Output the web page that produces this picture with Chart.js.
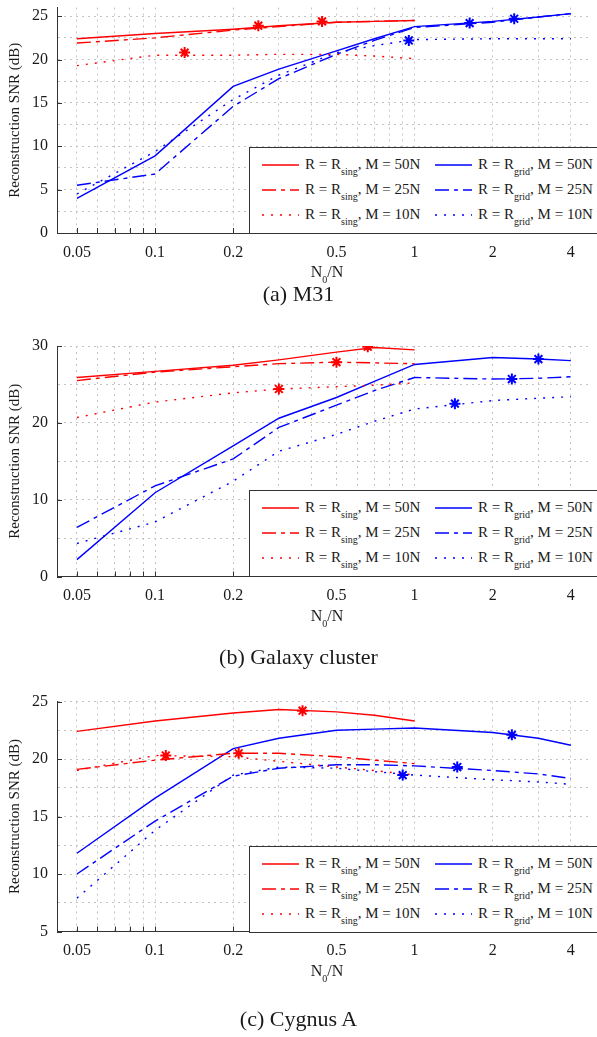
<!DOCTYPE html>
<html><head><meta charset="utf-8">
<script src="https://cdn.jsdelivr.net/npm/chart.js@4.4.0/dist/chart.umd.min.js"></script>
<style>
html,body{margin:0;padding:0;background:#fff;width:597px;height:1037px;overflow:hidden;font-family:"Liberation Serif","Times New Roman","DejaVu Serif",serif;color:#1a1a1a;}
.panel{position:absolute;left:0;width:597px;}
.panel canvas{position:absolute;left:0;top:0;}
.legend{position:absolute;left:249px;width:360px;height:87px;box-sizing:border-box;border:1px solid #333;background:#fff;}
.item{position:absolute;height:20px;}
.item svg{position:absolute;left:0;top:7px;}
.item span.t{position:absolute;top:0;white-space:nowrap;font-size:15px;line-height:16px;}
.item sub{font-size:10px;vertical-align:baseline;position:relative;top:6px;}
.xt{position:absolute;width:100%;text-align:center;font-size:16px;}
.xt sub{font-size:10px;vertical-align:baseline;position:relative;top:6px;}
.cap{position:absolute;left:0;width:597px;text-align:center;font-size:22px;}
</style>
</head><body>
<script>
// ---------- data ----------
const N0N = [0.05, 0.1, 0.2, 0.3, 0.5, 0.7, 1, 2, 3, 4];
const xTickLabels = [0.05, 0.1, 0.2, 0.5, 1, 2, 4];
const xGridValues = [0.05,0.06,0.07,0.08,0.09,0.1,0.2,0.3,0.4,0.5,0.6,0.7,0.8,0.9,1,2,3,4];

// (a) M31
const m31Sing50 = [22.4, 23.0, 23.5, 23.9, 24.3, 24.4, 24.5, null, null, null];
const m31Sing25 = [21.9, 22.5, 23.4, 23.8, 24.3, 24.4, 24.5, null, null, null];
const m31Sing10 = [19.3, 20.5, 20.5, 20.6, 20.6, 20.4, 20.1, null, null, null];
const m31Grid50 = [4.0, 8.9, 16.9, 18.9, 21.0, 22.4, 23.8, 24.4, 24.9, 25.3];
const m31Grid25 = [5.5, 6.8, 14.6, 17.8, 20.6, 22.2, 23.7, 24.3, 24.9, 25.3];
const m31Grid10 = [4.5, 9.4, 15.4, 18.2, 20.8, 21.6, 22.3, 22.4, 22.4, 22.4];
const m31StarX = [0.25, 0.44, 0.13, 2.42, 1.63, 0.95];
const m31StarY = [23.9, 24.4, 20.8, 24.7, 24.2, 22.2];
const m31YTicks = [0, 2.5, 5, 7.5, 10, 12.5, 15, 17.5, 20, 22.5, 25];
const m31YLabels = [0, 5, 10, 15, 20, 25];

// (b) Galaxy cluster
const galSing50 = [25.9, 26.7, 27.5, 28.2, 29.2, 29.8, 29.5, null, null, null];
const galSing25 = [25.5, 26.6, 27.3, 27.7, 27.9, 27.8, 27.7, null, null, null];
const galSing10 = [20.7, 22.7, 23.9, 24.4, 24.7, 24.9, 25.2, null, null, null];
const galGrid50 = [2.2, 10.9, 17.0, 20.6, 23.3, 25.4, 27.6, 28.5, 28.3, 28.1];
const galGrid25 = [6.4, 11.8, 15.3, 19.4, 22.3, 24.2, 25.9, 25.7, 25.8, 26.0];
const galGrid10 = [4.3, 7.1, 12.4, 16.3, 18.5, 20.2, 21.8, 22.9, 23.2, 23.4];
const galStarX = [0.66, 0.5, 0.30, 3.0, 2.37, 1.43];
const galStarY = [29.9, 27.9, 24.4, 28.3, 25.7, 22.5];
const galYTicks = [0, 5, 10, 15, 20, 25, 30];
const galYLabels = [0, 10, 20, 30];

// (c) Cygnus A
const cygSing50 = [22.4, 23.3, 24.0, 24.3, 24.1, 23.8, 23.3, null, null, null];
const cygSing25 = [19.1, 19.9, 20.5, 20.5, 20.2, 19.9, 19.6, null, null, null];
const cygSing10 = [19.0, 20.3, 20.2, 19.8, 19.3, 19.0, 18.6, null, null, null];
const cygGrid50 = [11.8, 16.6, 20.9, 21.8, 22.5, 22.6, 22.7, 22.3, 21.8, 21.2];
const cygGrid25 = [10.0, 14.6, 18.5, 19.2, 19.5, 19.5, 19.4, 19.0, 18.7, 18.3];
const cygGrid10 = [7.9, 13.8, 18.6, 19.3, 19.2, 18.9, 18.6, 18.2, 18.0, 17.8];
const cygStarX = [0.37, 0.21, 0.11, 2.37, 1.46, 0.9];
const cygStarY = [24.2, 20.5, 20.3, 22.1, 19.3, 18.6];
const cygYTicks = [5, 7.5, 10, 12.5, 15, 17.5, 20, 22.5, 25];
const cygYLabels = [5, 10, 15, 20, 25];

const seriesR = ['sing', 'sing', 'sing', 'grid', 'grid', 'grid'];
const seriesM = ['50N', '25N', '10N', '50N', '25N', '10N'];

// ---------- styles ----------
const COL = {sing: '#ff0000', grid: '#0000ff'};
const DASH = {'50N': [], '25N': [14, 5, 4, 5], '10N': [2, 7]};

const panels = [
  {top: 0, height: 330, plotTop: 3, plotBottom: 233, yMin: 0, yMax: 26,
   series: [m31Sing50, m31Sing25, m31Sing10, m31Grid50, m31Grid25, m31Grid10],
   starX: m31StarX, starY: m31StarY, yTicks: m31YTicks, yLabels: m31YLabels,
   caption: '(a) M31', capY: 281, legTop: 147},
  {top: 330, height: 343, plotTop: 16, plotBottom: 246.5, yMin: 0, yMax: 30,
   series: [galSing50, galSing25, galSing10, galGrid50, galGrid25, galGrid10],
   starX: galStarX, starY: galStarY, yTicks: galYTicks, yLabels: galYLabels,
   caption: '(b) Galaxy cluster', capY: 314, legTop: 160},
  {top: 673, height: 364, plotTop: 28.5, plotBottom: 258.5, yMin: 5, yMax: 25,
   series: [cygSing50, cygSing25, cygSing10, cygGrid50, cygGrid25, cygGrid10],
   starX: cygStarX, starY: cygStarY, yTicks: cygYTicks, yLabels: cygYLabels,
   caption: '(c) Cygnus A', capY: 333, legTop: 172.5}
];

const innerTicks = {
  id: 'innerTicks',
  afterDraw(chart, args, opts) {
    const {ctx, chartArea: a, scales: {x, y}} = chart;
    ctx.save();
    ctx.strokeStyle = '#333';
    ctx.lineWidth = 1;
    ctx.beginPath();
    for (const t of y.ticks) {
      if (!opts.yLabels.includes(t.value)) continue;
      const py = Math.round(y.getPixelForValue(t.value)) + 0.5;
      ctx.moveTo(a.left, py); ctx.lineTo(a.left + 5, py);
    }
    for (const t of x.ticks) {
      const px = Math.round(x.getPixelForValue(t.value)) + 0.5;
      ctx.moveTo(px, a.bottom); ctx.lineTo(px, a.bottom - 5);
    }
    ctx.stroke();
    ctx.restore();
  }
};

const FONT = "'Liberation Serif', 'Times New Roman', 'DejaVu Serif', serif";

panels.forEach((p, pi) => {
  const div = document.createElement('div');
  div.className = 'panel';
  div.style.top = p.top + 'px';
  div.style.height = p.height + 'px';
  document.body.appendChild(div);
  const cv = document.createElement('canvas');
  cv.width = 597; cv.height = p.height;
  cv.style.width = '597px'; cv.style.height = p.height + 'px';
  div.appendChild(cv);

  const datasets = [];
  p.starX.forEach((sx, i) => {
    const c = COL[seriesR[i]];
    datasets.push({
      label: 'star', data: [{x: sx, y: p.starY[i]}], showLine: false,
      pointStyle: 'star', pointRadius: 5.5, pointBorderWidth: 2,
      borderColor: c, backgroundColor: c, pointBorderColor: c
    });
  });
  p.series.forEach((vals, i) => {
    const c = COL[seriesR[i]];
    const pts = [];
    vals.forEach((v, k) => { if (v !== null) pts.push({x: N0N[k], y: v}); });
    datasets.push({
      label: 'R = R' + seriesR[i] + ', M = ' + seriesM[i],
      data: pts, borderColor: c, backgroundColor: c, borderWidth: 1.4,
      borderDash: DASH[seriesM[i]], pointRadius: 0, tension: 0, fill: false
    });
  });

  const xAxisH = p.height - p.plotBottom;
  new Chart(cv, {
    type: 'line',
    data: {datasets},
    plugins: [innerTicks],
    options: {
      responsive: false, animation: false, devicePixelRatio: 1,
      layout: {padding: {top: p.plotTop, left: 0, right: 0, bottom: 0}},
      plugins: {legend: {display: false}, tooltip: {enabled: false}, innerTicks: {yLabels: p.yLabels}},
      scales: {
        x: {
          type: 'logarithmic', min: 0.0419, max: 4.72,
          afterBuildTicks: s => { s.ticks = xGridValues.map(v => ({value: v})); },
          afterFit: s => { s.height = xAxisH; s.paddingLeft = 0; s.paddingRight = 0; },
          ticks: {
            autoSkip: false, maxRotation: 0, minRotation: 0, padding: 10, color: '#1a1a1a',
            font: {family: FONT, size: 16},
            callback: v => xTickLabels.includes(v) ? String(v) : ''
          },
          grid: {color: '#c4c4c4', lineWidth: 1, drawTicks: false},
          border: {display: true, color: '#333', width: 1, dash: [2, 4]}
        },
        y: {
          type: 'linear', min: p.yMin, max: p.yMax,
          afterBuildTicks: s => { s.ticks = p.yTicks.map(v => ({value: v})); },
          afterFit: s => { s.width = 57; s.paddingTop = 0; s.paddingBottom = 0; },
          ticks: {
            padding: 9, color: '#1a1a1a', font: {family: FONT, size: 16},
            callback: v => p.yLabels.includes(v) ? String(v) : ''
          },
          grid: {color: '#c4c4c4', lineWidth: 1, drawTicks: false},
          border: {display: true, color: '#333', width: 1, dash: [2, 4]},
          title: {display: true, text: 'Reconstruction SNR (dB)', color: '#1a1a1a',
                  font: {family: FONT, size: 15}, padding: {top: 6, bottom: 0}}
        }
      }
    }
  });

  // x axis title
  const xt = document.createElement('div');
  xt.className = 'xt';
  xt.style.left = '57px'; xt.style.width = '540px';
  xt.style.top = (p.plotBottom + 30) + 'px';
  xt.innerHTML = 'N<sub>0</sub>/N';
  div.appendChild(xt);

  // legend (built from series labels/styles)
  const leg = document.createElement('div');
  leg.className = 'legend';
  leg.style.top = p.legTop + 'px';
  const colX = [12, 185];
  const rowY = [8, 33, 58];
  for (let i = 0; i < 6; i++) {
    const col = Math.floor(i / 3), row = i % 3;
    const it = document.createElement('div');
    it.className = 'item';
    it.style.left = colX[col] + 'px';
    it.style.top = rowY[row] + 'px';
    const c = COL[seriesR[i]];
    const d = DASH[seriesM[i]];
    it.innerHTML = '<svg width="37" height="4"><line x1="0" y1="2" x2="37" y2="2" stroke="' + c +
      '" stroke-width="1.5" stroke-dasharray="' + (d.length ? d.join(',') : 'none') + '"/></svg>' +
      '<span class="t" style="left:43px">R = R<sub>' + seriesR[i] + '</sub>, M = ' + seriesM[i] + '</span>';
    leg.appendChild(it);
  }
  div.appendChild(leg);

  const cap = document.createElement('div');
  cap.className = 'cap';
  cap.style.top = p.capY + 'px';
  cap.textContent = p.caption;
  div.appendChild(cap);
});
</script>
</body></html>
